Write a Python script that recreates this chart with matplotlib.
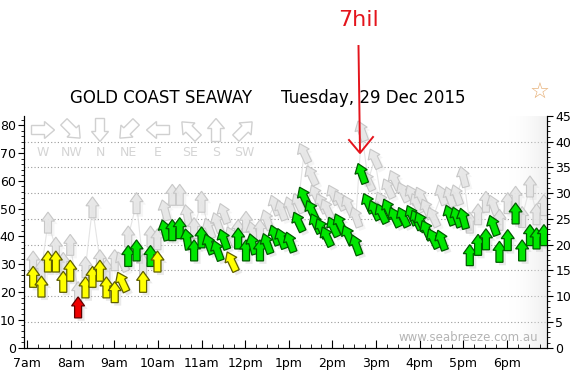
import numpy as np
import matplotlib
matplotlib.use("Agg")
import matplotlib.pyplot as plt
from matplotlib.patches import Polygon
from matplotlib.transforms import ScaledTranslation
from matplotlib.lines import Line2D

times = [7.14, 7.33, 7.48, 7.66, 7.83, 7.99, 8.17, 8.34, 8.50, 8.67, 8.82, 9.01,
         9.18, 9.32, 9.51, 9.66, 9.83, 9.99, 10.16, 10.33, 10.50, 10.67, 10.83, 11.00,
         11.17, 11.36, 11.51, 11.69, 11.84, 12.02, 12.17, 12.34, 12.50, 12.68, 12.83, 13.03,
         13.22, 13.35, 13.52, 13.62, 13.75, 13.87, 14.02, 14.17, 14.36, 14.54, 14.67, 14.82,
         14.97, 15.13, 15.28, 15.43, 15.62, 15.82, 15.93, 16.03, 16.16, 16.31, 16.50, 16.69,
         16.85, 17.00, 17.15, 17.34, 17.52, 17.69, 17.83, 18.02, 18.20, 18.35, 18.53, 18.68,
         18.85]
avg_kmh = [25.5, 22, 31, 31, 23.7, 27.7, 14.5, 21.7, 25.5, 27.7, 21.7, 20,
           23.7, 33, 35, 23.7, 33, 31, 42.3, 42.3, 43, 39, 35, 39.7,
           37.3, 35, 39, 31, 39.3, 35, 37.3, 35, 37.5, 40.5, 39.3, 38,
           45.3, 54.3, 49.5, 44.7, 43, 40, 43.5, 44.7, 40.5, 37, 62.7, 52,
           49.5, 48.3, 50, 47, 47, 47.7, 46, 45.3, 42.3, 39.3, 38.7, 47.7,
           47, 46.5, 33.3, 37, 39, 44, 34.5, 38.7, 48.3, 35, 40.5, 39.3,
           40.5]
gust_kmh = [31, 28, 45, 36, 30.5, 37, 20, 29, 50.5, 31.5, 28, 31.5,
            31, 40, 52, 30, 40, 39, 49.5, 55, 55, 47.7, 43, 52.5,
            43, 45, 48.3, 40, 42.3, 45.3, 41.7, 42.3, 46, 51.3, 49.5, 50.7,
            52, 70, 62, 55, 52, 50, 55, 53, 51.3, 47, 78, 60,
            68, 52.5, 57.3, 60.3, 56, 55, 52, 54.3, 50, 47, 55, 54.3,
            55, 61.5, 45, 48, 52.5, 51.3, 46, 52, 54.3, 47, 58, 48,
            51.3]
# arrow lean to the left, degrees (0 = straight up = wind from the south)
tilt = [0, 0, 0, 0, 0, 0, 0, 0, 0, 0, 0, 0,
        25, 0, 0, 0, 0, 0, 15, 0, 0, 10, 0, 0,
        20, 20, 20, 25, 0, 0, 15, 0, 20, 20, 20, 20,
        25, 25, 25, 25, 25, 25, 25, 25, 25, 20, 20, 25,
        25, 25, 25, 25, 25, 25, 25, 25, 25, 25, 20, 20,
        20, 15, 0, 0, 0, 20, 0, 0, 0, 0, 0, 0,
        0]
speed_band = list("YYYYYYRYYYYY" "YGGYGYGGGGGG" "GGGYGGGGGGGG"
                  "GGGGGGGGGGGG" "GGGGGGGGGGGG" "GGGGGGGGGGGG" "G")

hour_ticks = list(range(7, 19))
hour_labels = ["7am", "8am", "9am", "10am", "11am", "12pm", "1pm", "2pm",
               "3pm", "4pm", "5pm", "6pm"]
dir_names = ["W", "NW", "N", "NE", "E", "SE", "S", "SW"]
dir_x_px = [43, 72, 100, 128, 158, 190, 216, 244]
dir_rot = [-90, -135, 180, 135, 90, 45, 0, -45]

band_fill = {"Y": "#ffff00", "G": "#00e600", "R": "#ee0000"}
band_edge = {"Y": "#5e5e00", "G": "#005a00", "R": "#600000"}

KMH_PER_KT = 1.852
W, H = 573, 370

ARROW = np.array([[0, 10.5], [6.5, 1.5], [3.5, 1.5], [3.5, -10.5], [-3.5, -10.5],
                  [-3.5, 1.5], [-6.5, 1.5]])
BIG_ARROW = np.array([[0, 11.5], [8.5, 1.5], [4.5, 1.5], [4.5, -11.5], [-4.5, -11.5],
                      [-4.5, 1.5], [-8.5, 1.5]])

fig = plt.figure(figsize=(W / 100, H / 100), dpi=100)
ax = fig.add_axes([24 / W, 1 - 347.7 / H, (547 - 24) / W, (347.7 - 116) / H])
ax2 = ax.twinx()


def px_shape(shape, ang, dx=0.0, dy=0.0):
    th = np.deg2rad(ang)
    rot = np.array([[np.cos(th), -np.sin(th)], [np.sin(th), np.cos(th)]])
    return (shape @ rot.T + [dx, dy]) / 100.0


def add_arrow(x, y, ang, fc, ec, z, lw=0.8, alpha=1.0, dx=0, dy=0, shape=ARROW):
    tr = fig.dpi_scale_trans + ScaledTranslation(x, y, ax.transData)
    ax.add_patch(Polygon(px_shape(shape, ang, dx, dy), closed=True, transform=tr,
                         fc=fc, ec=ec, lw=lw, alpha=alpha, zorder=z))


ax.set_xlim(6.93, 18.92)
ax.set_ylim(0, 45 * KMH_PER_KT)
ax2.set_ylim(0, 45)

# grid on the knots scale
for k in range(5, 45, 5):
    ax.axhline(k * KMH_PER_KT, color="#9a9a9a", lw=0.8, ls=(0, (1, 2)), zorder=0)

# soft shading near the right edge
grad = np.zeros((1, 60, 4))
grad[..., :3] = 0.9
grad[..., 3] = np.linspace(0, 0.8, 60) ** 2
ax.imshow(grad, extent=[0.92, 1, 0, 1], transform=ax.transAxes, aspect="auto", zorder=0)

# gusts
ax.plot(times, gust_kmh, color="#e4e4e4", lw=0.8, zorder=1)
for t, g, a in zip(times, gust_kmh, tilt):
    add_arrow(t, g, a, "#b0b0b0", "none", 1, alpha=0.12, dx=3, dy=-3)
    add_arrow(t, g, a, "#e6e6e6", "#c4c4c4", 2, lw=0.8, alpha=0.92)

# averages
for t, v, a, b in zip(times, avg_kmh, tilt, speed_band):
    add_arrow(t, v, a, "#909090", "none", 3, alpha=0.18, dx=3, dy=-3)
    add_arrow(t, v, a, band_fill[b], band_edge[b], 4, lw=0.9)

ax.set_xticks(hour_ticks)
ax.set_xticklabels(hour_labels)
ax.set_xticks(np.arange(7, 19, 0.25), minor=True)
ax.set_yticks(range(0, 81, 10))
ax.set_yticks(range(0, 84, 2), minor=True)
ax2.set_yticks(range(0, 46, 5))
ax2.set_yticks(range(0, 46, 1), minor=True)

for a in (ax, ax2):
    a.spines["top"].set_visible(False)
    a.tick_params(labelsize=9, colors="black", pad=2)
ax.tick_params(axis="x", which="major", direction="in", length=6, pad=7)
ax.tick_params(axis="x", which="minor", direction="in", length=3)
ax.tick_params(axis="y", which="major", direction="out", length=4)
ax.tick_params(axis="y", which="minor", direction="out", length=2)
ax2.tick_params(axis="y", which="major", direction="out", length=4)
ax2.tick_params(axis="y", which="minor", direction="out", length=2)

ax.text(0.983, 0.046, "www.seabreeze.com.au", transform=ax.transAxes, ha="right",
        va="center", color="#b4b4b4", fontsize=8.5)

# direction key
for name, xp, r in zip(dir_names, dir_x_px, dir_rot):
    tr = fig.dpi_scale_trans + ScaledTranslation(xp / W, 1 - 130 / H, fig.transFigure)
    fig.add_artist(Polygon(px_shape(BIG_ARROW, r), closed=True, transform=tr,
                           fc="white", ec="#d0d0d0", lw=1.0, zorder=5))
    fig.text(xp / W, 1 - 152 / H, name, ha="center", va="center", color="#d4d4d4",
             fontsize=9)

fig.text(161 / W, 1 - 98 / H, "GOLD COAST SEAWAY", ha="center", va="center", fontsize=12)
fig.text(373 / W, 1 - 98 / H, "Tuesday, 29 Dec 2015", ha="center", va="center", fontsize=12)
fig.text(540 / W, 1 - 93 / H, "\u2606", ha="center", va="center", fontsize=16, color="#e6ae74")

# red hand annotation
red = "#e4141c"
fig.text(358 / W, 1 - 20 / H, "7hil", ha="center", va="center", fontsize=16, color=red)
fig.add_artist(Line2D([358.5 / W, 360 / W], [1 - 46 / H, 1 - 152 / H], color=red, lw=1.4,
                      transform=fig.transFigure, zorder=10))
fig.add_artist(Line2D([349 / W, 360 / W, 373 / W], [1 - 140 / H, 1 - 153 / H, 1 - 137 / H],
                      color=red, lw=1.4, transform=fig.transFigure, zorder=10))

fig.savefig("out.png", dpi=100)
